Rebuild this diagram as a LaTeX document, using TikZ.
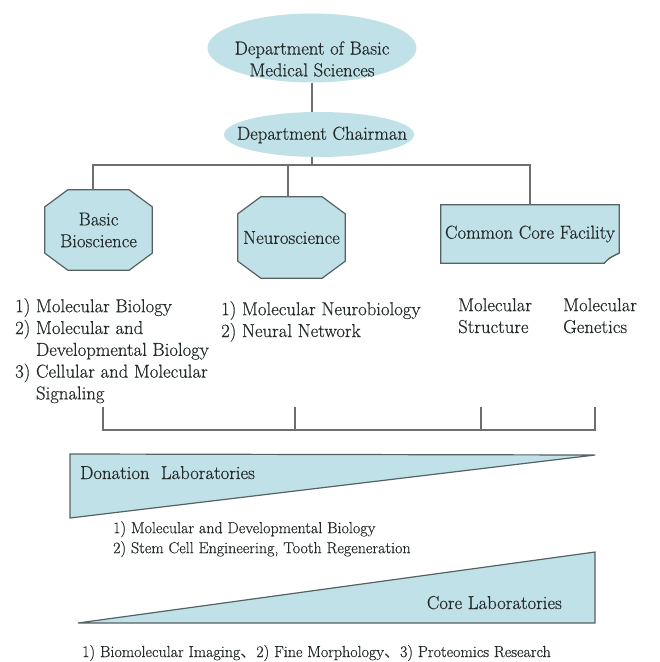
\documentclass[tikz,border=0pt]{standalone}
\usepackage{fontspec}
\newfontfamily\labelfont{Latin Modern Roman}[FakeBold=0.5]
\newfontfamily\cjkfont{Noto Sans CJK SC}
\usetikzlibrary{shapes.geometric,backgrounds}

\definecolor{boxfill}{RGB}{192,225,231}
\definecolor{edgegray}{RGB}{85,98,98}
\definecolor{linegray}{RGB}{110,110,110}
\definecolor{inkgray}{RGB}{35,42,42}
\definecolor{flapgray}{RGB}{120,135,135}

\newcommand{\bigtext}{\labelfont\fontsize{18.7bp}{21.8bp}\selectfont}
\newcommand{\smalltext}{\labelfont\fontsize{16bp}{20bp}\selectfont}

% octagon drawn around a rectangular node: node name, corner cut x, corner cut y
\newcommand{\octframe}[3]{%
  \draw[frame] ([xshift=#2]#1.north west) -- ([xshift=-#2]#1.north east)
    -- ([yshift=-#3]#1.north east) -- ([yshift=#3]#1.south east)
    -- ([xshift=-#2]#1.south east) -- ([xshift=#2]#1.south west)
    -- ([yshift=#3]#1.south west) -- ([yshift=-#3]#1.north west) -- cycle;}

\begin{document}
\begin{tikzpicture}[x=1bp,y=-1bp,
  every node/.style={text=inkgray, inner sep=0pt},
  conn/.style={draw=linegray, line width=1.2bp},
  frame/.style={draw=edgegray, fill=boxfill, line width=1.2bp, line join=miter},
  oval/.style={ellipse, fill=boxfill},
  bigfont/.style={font=\bigtext},
  smallfont/.style={font=\smalltext}]

\useasboundingbox (0,0) rectangle (660,662);

% head of the department
\node[oval, minimum width=209bp, minimum height=69bp] (dept) at (312,48) {};
\node[bigfont, align=center] (depttext) at (312,59) {Department of Basic\\Medical Sciences};
\node[oval, minimum width=190bp, minimum height=45bp] (chair) at (319,134.5) {};
\node[bigfont] (chairtext) at (322,135) {Department Chairman};

% divisions
\node[bigfont, align=center, minimum width=107bp, minimum height=80bp] (bio) at (98.5,230) {Basic\\Bioscience};
\node[bigfont, minimum width=107bp, minimum height=81bp] (neuro) at (291.5,237.5) {Neuroscience};
\node[bigfont, minimum width=178bp, minimum height=58bp] (ccf) at (530,234) {Common Core Facility};

\begin{scope}[on background layer]
  \octframe{bio}{23bp}{17bp}
  \octframe{neuro}{23bp}{17bp}
  % note box with a curled lower right corner
  \draw[frame] (ccf.north west) -- (ccf.north east) -- ([yshift=10bp]ccf.south east)
    .. controls ([xshift=-5bp,yshift=8bp]ccf.south east) and ([xshift=-11bp,yshift=5bp]ccf.south east)
    .. ([xshift=-15bp]ccf.south east) -- (ccf.south west) -- cycle;
  \filldraw[draw=edgegray, fill=flapgray, line width=0.8bp] ([xshift=-15bp]ccf.south east)
    -- ([xshift=-10bp,yshift=5bp]ccf.south east) -- ([yshift=10bp]ccf.south east)
    .. controls ([xshift=-5bp,yshift=8bp]ccf.south east) and ([xshift=-11bp,yshift=5bp]ccf.south east)
    .. ([xshift=-15bp]ccf.south east) -- cycle;
\end{scope}

% hierarchy connectors
\coordinate (bar) at (312,165);
\draw[conn] (dept.south) -- (dept.south |- chair.north);
\draw[conn] (dept.south |- chair.south) -- (bar);
\draw[conn] ([xshift=-5.5bp]bio.north) |- (ccf.north |- bar) -- (ccf.north);
\draw[conn] ([xshift=-3.5bp]neuro.north) -- ([xshift=-3.5bp]neuro.north |- bar);

% research fields
\node[bigfont, align=left, anchor=north west] (biolist) at (15,298)
  {1) Molecular Biology\\2) Molecular and\\\phantom{2) }Developmental Biology\\3) Cellular and Molecular\\\phantom{3) }Signaling};
\node[bigfont, align=left, anchor=north west] (neurolist) at (221,301)
  {1) Molecular Neurobiology\\2) Neural Network};
\node[bigfont, align=left, anchor=north west] (structlist) at (458,298) {Molecular\\Structure};
\node[bigfont, align=left, anchor=north west] (genlist) at (563,298) {Molecular\\Genetics};

% bracket joining the fields
\coordinate (k1) at (103,407);
\coordinate (k2) at (295,407);
\coordinate (k3) at (481,407);
\coordinate (k4) at (595,407);
\coordinate (brk) at (0,430);
\draw[conn] (k1) -- (k1 |- brk) -- (k4 |- brk) -- (k4);
\draw[conn] (k2) -- (k2 |- brk);
\draw[conn] (k3) -- (k3 |- brk);

% laboratories
\draw[frame] (70,454) -- (595,455) -- (70,518) -- cycle;
\node[bigfont, anchor=base west] (donation) at (80,479) {Donation\ \ Laboratories};
\node[smallfont, align=left, anchor=north west] (donlist) at (113,521)
  {1) Molecular and Developmental Biology\\2) Stem Cell Engineering, Tooth Regeneration};

\draw[frame] (78,623) -- (595,623) -- (595,552) -- cycle;
\node[bigfont, anchor=base east] (core) at (562,609) {Core Laboratories};
\node[smallfont, anchor=base west] (corelist) at (82,657)
  {1) Biomolecular Imaging{\cjkfont 、}2) Fine Morphology{\cjkfont 、}3) Proteomics Research};

\end{tikzpicture}
\end{document}
